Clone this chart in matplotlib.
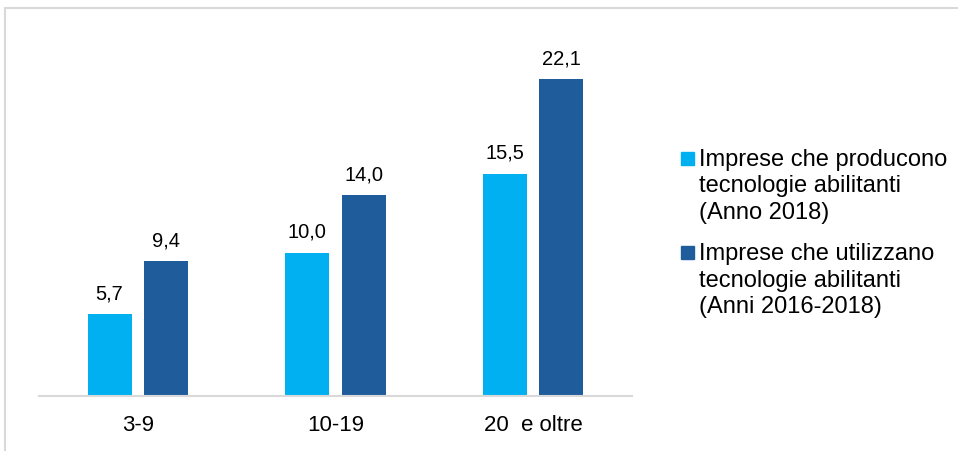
import matplotlib
matplotlib.use("Agg")
import matplotlib.pyplot as plt
from matplotlib.patches import Rectangle
import numpy as np

categories = ["3-9", "10-19", "20  e oltre"]
produce = [5.7, 10.0, 15.5]
utilizza = [9.4, 14.0, 22.1]
legend_labels = [
    ["Imprese che producono", "tecnologie abilitanti", "(Anno 2018)"],
    ["Imprese che utilizzano", "tecnologie abilitanti", "(Anni 2016-2018)"],
]
colors = ["#00B0F0", "#1F5C9C"]

plt.rcParams['font.family'] = ['Liberation Sans', 'DejaVu Sans']

W, H = 958, 451
fig = plt.figure(figsize=(W / 100, H / 100), dpi=100)

# outer frame
fig.patches.append(Rectangle((5 / W, -0.1), 1.2, (H - 8) / H + 0.1,
                             transform=fig.transFigure, fill=False,
                             edgecolor="#d9d9d9", linewidth=1.5))

ax = fig.add_axes([39 / W, 55 / H, 593 / W, 344 / H])
x = np.arange(len(categories))
bw = 0.222
off = 0.143
b1 = ax.bar(x - off, produce, bw, color=colors[0])
b2 = ax.bar(x + off, utilizza, bw, color=colors[1])

for bars, vals in ((b1, produce), (b2, utilizza)):
    for b, v in zip(bars, vals):
        ax.annotate(f"{v:.1f}".replace(".", ","),
                    (b.get_x() + b.get_width() / 2, v),
                    xytext=(0, 8), textcoords="offset points",
                    ha="center", va="bottom", fontsize=14.5, color="#000000")

ax.set_xlim(-0.5, len(categories) - 0.5)
ax.set_ylim(0, 24)
ax.set_xticks(x)
ax.set_xticklabels(categories, fontsize=16)
ax.tick_params(axis="x", length=0, pad=14)
ax.set_yticks([])
for s in ("top", "right", "left"):
    ax.spines[s].set_visible(False)
ax.spines["bottom"].set_color("#d9d9d9")
ax.spines["bottom"].set_linewidth(1.5)

# legend (square aligned with first text line)
first_baselines = [166, 260]
for lines, col, b0 in zip(legend_labels, colors, first_baselines):
    fig.patches.append(Rectangle((681 / W, 1 - (b0 - 1) / H), 13 / W, 13 / H,
                                 transform=fig.transFigure, color=col))
    for i, line in enumerate(lines):
        fig.text(699 / W, 1 - (b0 + 26.5 * i) / H, line, fontsize=17,
                 va="baseline", ha="left", color="#000000")

fig.savefig("out.png", dpi=100)
